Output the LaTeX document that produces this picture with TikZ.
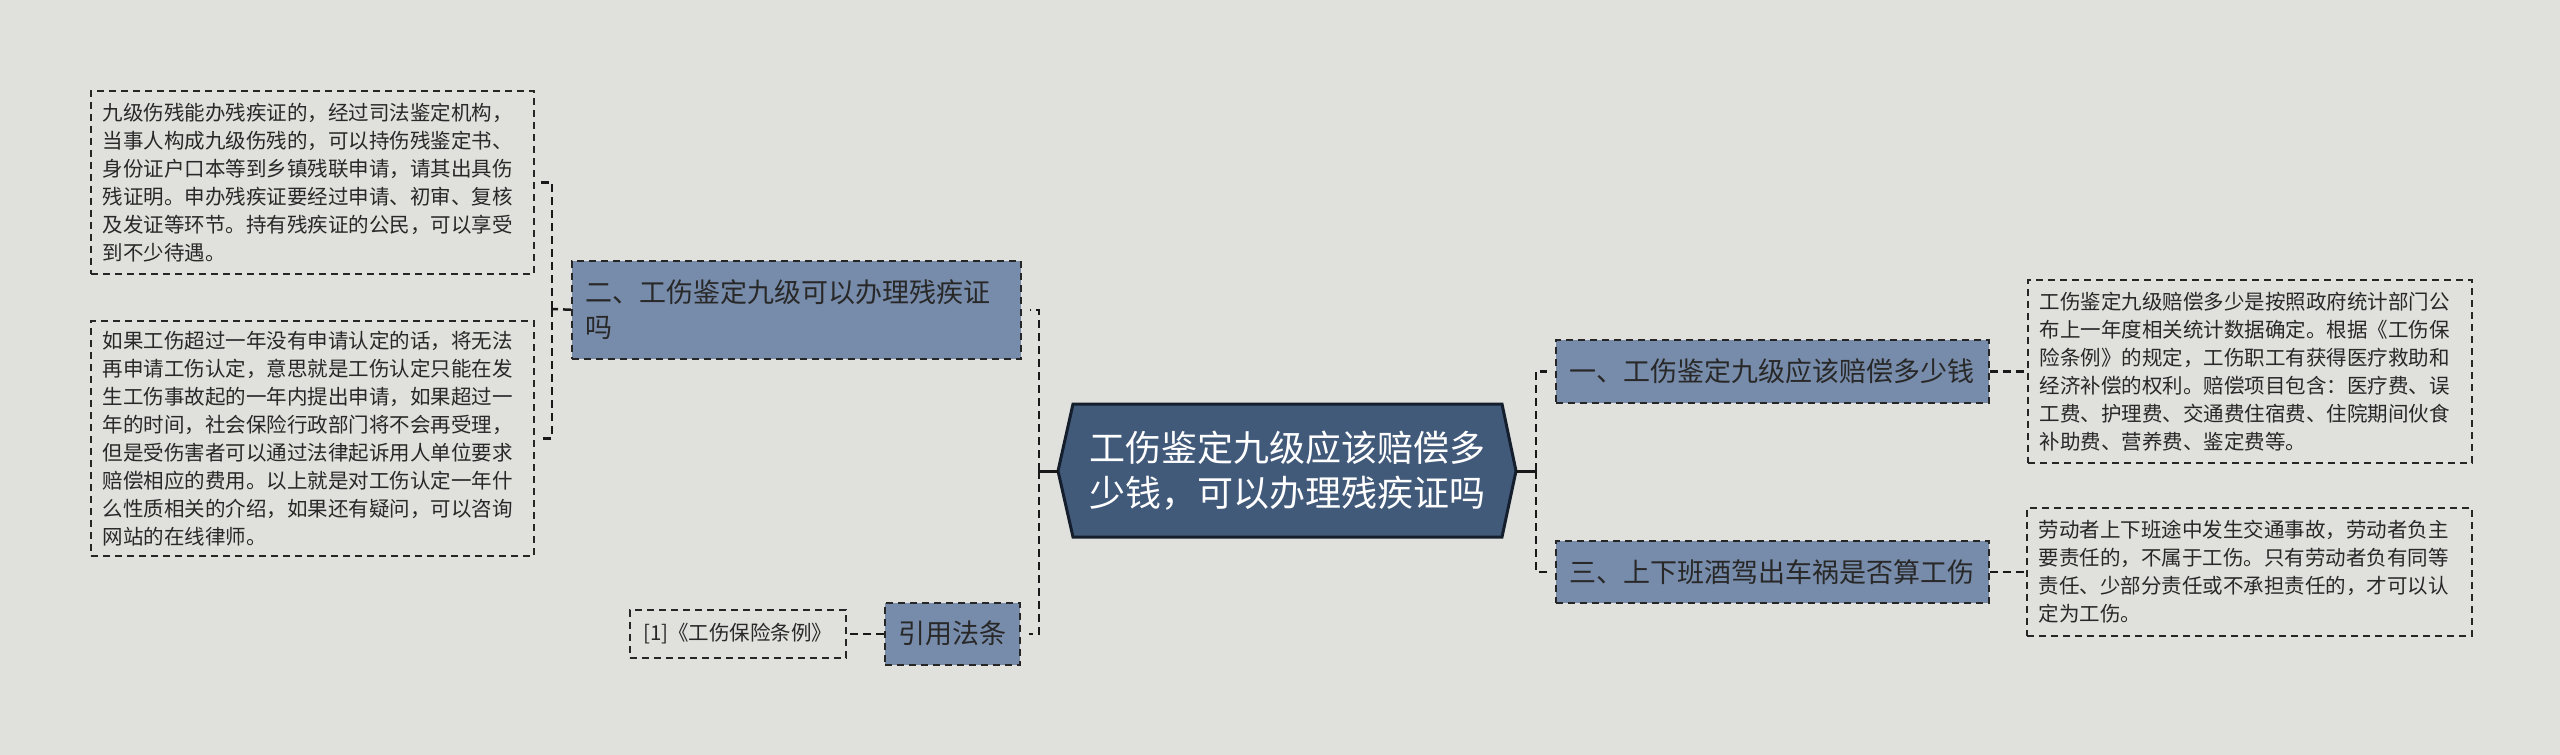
\documentclass[tikz,border=0pt]{standalone}
\usepackage{fontspec}
\setmainfont{Noto Sans CJK SC}
\definecolor{bgc}{RGB}{224,225,220}
\definecolor{lvlc}{RGB}{119,139,170}
\definecolor{cenc}{RGB}{66,90,122}
\definecolor{cenb}{RGB}{20,30,45}
\definecolor{txtc}{RGB}{40,40,40}
\begin{document}
\begin{tikzpicture}[x=1pt,y=-1pt,
  txtbox/.style={draw=black!85, line width=1.5pt, dash pattern=on 7pt off 5pt, align=left, inner xsep=12pt, inner ysep=0pt, text=txtc, font=\fontsize{20.5}{28}\selectfont, anchor=north west},
  lvl/.style={fill=lvlc, draw=black!85, line width=1.5pt, dash pattern=on 7pt off 5pt, text=txtc, font=\fontsize{27}{35}\selectfont, inner sep=0pt, anchor=north west},
  conn/.style={draw=black!90, line width=2.5pt, dash pattern=on 8pt off 5pt},
  stub/.style={draw=black!90, line width=3pt}]
\useasboundingbox (0,0) rectangle (2560,755);
\fill[bgc] (0,0) rectangle (2560,755);

% central node
\draw[fill=cenc, draw=cenb, line width=3pt] (1058,471) -- (1073,404) -- (1502,404) -- (1516,471) -- (1502,537) -- (1073,537) -- cycle;
\node[text=white, font=\fontsize{36}{45}\selectfont, align=center, inner sep=0pt] (c) at (1287,471) {工伤鉴定九级应该赔偿多\\少钱，可以办理残疾证吗};
\coordinate (cW) at (1058,471);
\coordinate (cE) at (1516,471);
\coordinate (jL) at (1039,471);
\coordinate (jR) at (1536,471);

% level-1 nodes
\node[lvl, text width=421pt, inner xsep=14pt, minimum height=98pt, align=left] (n2) at (571,260) {二、工伤鉴定九级可以办理残疾证\\吗};
\node[lvl, minimum width=135pt, minimum height=62pt, align=center] (n4) at (884,602) {引用法条};
\node[lvl, minimum width=433pt, minimum height=63pt, align=center] (n1) at (1555,339) {一、工伤鉴定九级应该赔偿多少钱};
\node[lvl, minimum width=433pt, minimum height=62pt, align=center] (n3) at (1555,540) {三、上下班酒驾出车祸是否算工伤};

% leaf text boxes
\node[txtbox, text width=419pt, minimum height=183pt] (t1) at (90,90) {九级伤残能办残疾证的，经过司法鉴定机构，\\当事人构成九级伤残的，可以持伤残鉴定书、\\身份证户口本等到乡镇残联申请，请其出具伤\\残证明。申办残疾证要经过申请、初审、复核\\及发证等环节。持有残疾证的公民，可以享受\\到不少待遇。};
\node[txtbox, text width=419pt, minimum height=235pt] (t2) at (90,320) {如果工伤超过一年没有申请认定的话，将无法\\再申请工伤认定，意思就是工伤认定只能在发\\生工伤事故起的一年内提出申请，如果超过一\\年的时间，社会保险行政部门将不会再受理，\\但是受伤害者可以通过法律起诉用人单位要求\\赔偿相应的费用。以上就是对工伤认定一年什\\么性质相关的介绍，如果还有疑问，可以咨询\\网站的在线律师。};
\node[txtbox, inner xsep=0pt, minimum width=216pt, minimum height=48pt, align=center] (ref) at (629,609) {[1]《工伤保险条例》};
\node[txtbox, text width=420pt, minimum height=183pt] (t3) at (2027,279) {工伤鉴定九级赔偿多少是按照政府统计部门公\\布上一年度相关统计数据确定。根据《工伤保\\险条例》的规定，工伤职工有获得医疗救助和\\经济补偿的权利。赔偿项目包含：医疗费、误\\工费、护理费、交通费住宿费、住院期间伙食\\补助费、营养费、鉴定费等。};
\node[txtbox, text width=421pt, minimum height=128pt] (t4) at (2026,507) {劳动者上下班途中发生交通事故，劳动者负主\\要责任的，不属于工伤。只有劳动者负有同等\\责任、少部分责任或不承担责任的，才可以认\\定为工伤。};

% connectors from centre
\draw[stub] (cW) -- (jL);
\draw[stub] (cE) -- (jR);
\draw[conn] (jL) |- ([xshift=8pt]n2.east);
\draw[conn] (jL) |- ([xshift=8pt]n4.east);
\draw[conn] (jR) |- ([xshift=-8pt]n1.west);
\draw[conn] (jR) |- ([xshift=-8pt]n3.west);

% connectors to leaves
\coordinate (j2) at (552,309);
\draw[conn] (n2.west) -- (j2);
\draw[conn] (j2) |- ([xshift=4pt]t1.east);
\draw[conn] (j2) |- ([xshift=4pt]t2.east);
\draw[conn] (n4.west) -- (ref.east);
\draw[conn] (n1.east) -- (t3.west);
\draw[conn] (n3.east) -- (t4.west);
\end{tikzpicture}
\end{document}
